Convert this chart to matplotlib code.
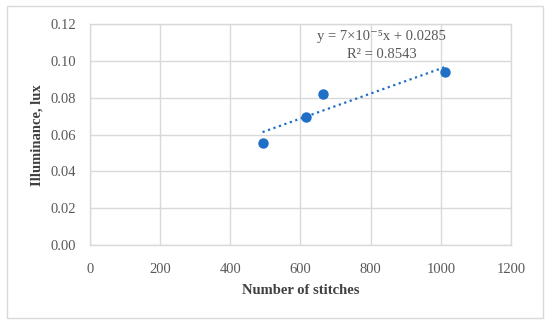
import matplotlib
matplotlib.use("Agg")
import matplotlib.pyplot as plt
import numpy as np
from matplotlib.patches import Rectangle

stitches = [492, 616, 665, 1012]
illuminance = [0.0557, 0.0696, 0.0819, 0.0939]
x_ticks = [0, 200, 400, 600, 800, 1000, 1200]
y_ticks = [0.00, 0.02, 0.04, 0.06, 0.08, 0.10, 0.12]
eq_text = "y = 7×10⁻⁵x + 0.0285"
r2_text = "R² = 0.8543"

plt.rcParams['font.family'] = ['Liberation Serif', 'DejaVu Serif']

fig = plt.figure(figsize=(5.5, 3.26), dpi=100)
ax = fig.add_axes([0.1636, 0.2485, 0.929 - 0.1636, 0.9255 - 0.2485])

blue = '#1f6fc6'
grid = '#d9d9d9'
txt = '#595959'

# trendline
coef = np.polyfit(stitches, illuminance, 1)
xs = np.array([min(stitches), max(stitches)])
ax.plot(xs, np.polyval(coef, xs), color=blue, lw=1.6, linestyle=(0, (1, 1.6)), zorder=3)
ax.plot(stitches, illuminance, 'o', color=blue, ms=6.5, zorder=4)

ax.set_xlim(0, 1200)
ax.set_ylim(0, 0.12)
ax.set_xticks(x_ticks)
ax.set_yticks(y_ticks)
ax.set_xticklabels([str(v) for v in x_ticks])
ax.set_yticklabels([f"{v:.2f}" for v in y_ticks])
ax.grid(True, color=grid, lw=1)
ax.set_axisbelow(True)
for s in ax.spines.values():
    s.set_color(grid)
    s.set_linewidth(1)
ax.tick_params(length=0, colors=txt, labelsize=10.5)
ax.tick_params(axis='x', pad=13)
ax.tick_params(axis='y', pad=10)

ax.set_xlabel("Number of stitches", fontsize=10.5, fontweight='bold', color='#404040', labelpad=6)
ax.set_ylabel("Illuminance, lux", fontsize=10.5, fontweight='bold', color='#404040', labelpad=5)

ax.text(831, 0.1135, eq_text, ha='center', va='center', fontsize=10.5, color=txt)
ax.text(831, 0.1035, r2_text, ha='center', va='center', fontsize=10.5, color=txt)

fig.patches.append(Rectangle((7/550, 8/326), 536/550, 312/326, transform=fig.transFigure,
                             fill=False, edgecolor=grid, lw=1))

fig.savefig("out.png", dpi=100)
